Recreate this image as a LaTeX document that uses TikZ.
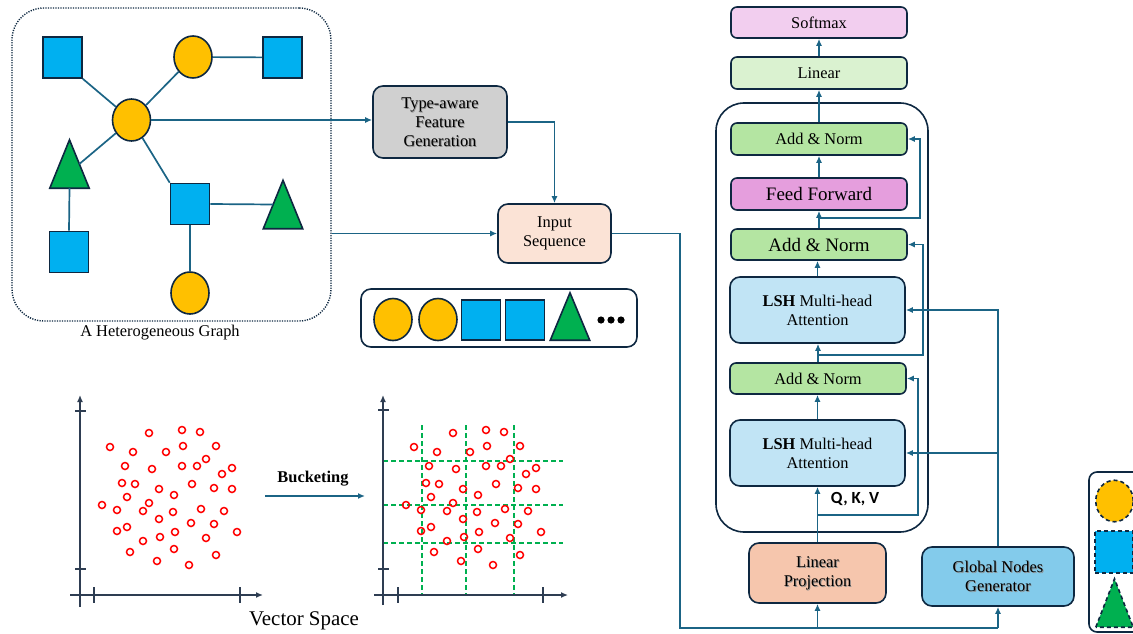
\documentclass[tikz,border=0pt]{standalone}
\usepackage{fontspec}
\setmainfont{Liberation Serif}
\newfontfamily\calib{Carlito}
\usetikzlibrary{arrows.meta,calc,shapes.geometric}

\definecolor{linec}{HTML}{1B6485}
\definecolor{edgec}{HTML}{0E2841}
\definecolor{sqblue}{HTML}{00B0F0}
\definecolor{cyell}{HTML}{FFC000}
\definecolor{tgreen}{HTML}{00B050}
\definecolor{smaxc}{HTML}{F2CEEF}
\definecolor{linc}{HTML}{DAF2D0}
\definecolor{normc}{HTML}{B4E5A2}
\definecolor{ffc}{HTML}{E59EDD}
\definecolor{attc}{HTML}{C1E4F5}
\definecolor{projc}{HTML}{F6C6AD}
\definecolor{globc}{HTML}{83CBEB}
\definecolor{typec}{HTML}{D0D0D0}
\definecolor{inpc}{HTML}{FBE3D6}
\definecolor{axisc}{HTML}{2E3D52}
\definecolor{gridc}{HTML}{00B050}

\newcommand\txt{\fontsize{16.4}{19}\selectfont}
\newcommand\txtbig{\fontsize{19}{22}\selectfont}

% sample points of the vector space (shared by both plots)
\newcommand\ptlist{149/433,182/430,200/432,110/447,133/452,166/452,183/446,216/446,
125/466,152/469,182/466,197/466,206/459,222/474,232/468,122/483,135/484,159/489,
192/484,214/488,232/489,127/497,174/495,149/503,102/505,117/510,143/511,173/512,
201/509,224/511,159/519,191/523,214/524,117/531,127/527,175/532,160/537,237/532,
143/541,206/538,130/552,174/549,216/555,157/561,189/565}

\tikzset{
  conn/.style={draw=linec, line width=1.7pt},
  arr/.style={conn, -{Latex[length=7pt,width=6pt]}},
  blk/.style={draw=edgec, line width=1.6pt, rounded corners=6pt, inner sep=0pt,
    align=center, font=\txt, minimum width=176pt, minimum height=31pt},
  rblk/.style={blk, rounded corners=10pt},
  % soft grey copy of the label just behind the text
  shadowtxt/.style={path picture={\node[text=black!45, font=\txt, align=center,
    inner sep=0pt] at ([xshift=0.9pt,yshift=-0.9pt]path picture bounding box.center) {#1};}},
  sq/.style={draw=edgec, fill=sqblue, line width=1.6pt, minimum width=39pt,
    minimum height=41pt, inner sep=0pt},
  circ/.style={ellipse, draw=edgec, fill=cyell, line width=1.6pt,
    minimum width=38pt, minimum height=42pt, inner sep=0pt},
  tribox/.style={inner sep=0pt, minimum width=39pt, minimum height=48pt},
  trishape/.style={draw=edgec, fill=tgreen, line width=1.6pt, line join=miter},
  dsh/.style={dash pattern=on 4pt off 3pt},
  pt/.style={draw=red, line width=1.5pt},
  axis/.style={draw=axisc, line width=1.3pt},
  axarr/.style={axis, -{Latex[length=7pt,width=6pt]}},
  grid/.style={draw=gridc, line width=1.4pt, dash pattern=on 5pt off 3pt},
}

\begin{document}
\begin{tikzpicture}[x=1pt,y=-1pt]
\useasboundingbox (0,0) rectangle (1133,634);
\clip (0,0) rectangle (1133,634);

% ---------- heterogeneous graph ----------
\node[draw=edgec, line width=1.4pt, dash pattern=on 1.2pt off 1.3pt,
  rounded corners=32pt, minimum width=319pt, minimum height=313pt] (gbox) at (171.5,164.5) {};
\node[font=\txt] (glabel) at (160,333) {A Heterogeneous Graph};

\node[sq] (sqTL) at (62.5,57.5) {};
\node[circ] (cTop) at (193,57) {};
\node[sq] (sqTR) at (282.5,57.5) {};
\node[circ] (c0) at (131.5,120) {};
\node[tribox] (tL) at (69.5,164) {};
\node[sq] (sqBL) at (69,252) {};
\node[sq] (sqM) at (190,204) {};
\node[tribox] (tR) at (283,204.5) {};
\node[circ] (cBot) at (190,293) {};
\draw[trishape] (tL.south west) -- (tL.north) -- (tL.south east) -- cycle;
\draw[trishape] (tR.south west) -- (tR.north) -- (tR.south east) -- cycle;

\draw[conn] (sqTL.south east) -- (c0);
\draw[conn] (c0) -- (cTop);
\draw[conn] (cTop) -- (sqTR);
\draw[conn] (c0) -- ($(tL.north)!0.5!(tL.south east)$);
\draw[conn] (tL.south) -- (sqBL.north);
\draw[conn] (c0) -- (sqM.north west);
\draw[conn] (sqM.east) -- ($(tR.south west)!0.5!(tR.north)$);
\draw[conn] (sqM) -- (cBot);

% ---------- feature generation and input sequence ----------
\node[rblk, fill=typec, minimum width=134pt, minimum height=72pt,
  shadowtxt={Type-aware\\Feature\\Generation}] (ta) at (440,122)
  {Type-aware\\Feature\\Generation};
\node[rblk, fill=inpc, minimum width=113pt, minimum height=59pt] (inp) at (554.5,233.5)
  {Input\\Sequence};

\draw[arr] (c0.east) -- (c0.east -| ta.west);
\draw[arr] (ta.east) -| (inp.north);
\draw[arr] (gbox.east |- inp.west) -- (inp.west);

% token sequence
\node[draw=edgec, line width=1.6pt, rounded corners=10pt, minimum width=276pt,
  minimum height=58pt] (seq) at (499,318) {};
\node[circ] (s1) at (393,319.5) {};
\node[circ] (s2) at (438,319.5) {};
\node[sq, minimum height=40pt] (s3) at (481,320) {};
\node[sq, minimum height=40pt] (s4) at (525,320) {};
\node[tribox, minimum height=47pt] (s5) at (570,316.5) {};
\draw[trishape] (s5.south west) -- (s5.north) -- (s5.south east) -- cycle;
\foreach \dx in {601,611,621} \fill[black] (\dx,320) circle[radius=3.6pt];

% ---------- encoder stack ----------
\node[draw=edgec, line width=1.6pt, rounded corners=28pt, minimum width=212pt,
  minimum height=429pt] (enc) at (822,317.5) {};

\node[blk, fill=smaxc] (smax) at (819,22.5) {Softmax};
\node[blk, fill=linc, minimum height=32pt] (lin) at (819,73) {Linear};
\node[blk, fill=normc, minimum height=32pt] (an1) at (819,139) {Add \& Norm};
\node[blk, fill=ffc, minimum height=32pt, font=\txtbig] (ff) at (819,194) {Feed Forward};
\node[blk, fill=normc, font=\txtbig] (an2) at (819,244.5) {Add \& Norm};
\node[rblk, fill=attc, minimum width=175pt, minimum height=66pt] (mha1) at (817.5,310)
  {\textbf{LSH} Multi-head\\Attention};
\node[blk, fill=normc] (an3) at (818,378.5) {Add \& Norm};
\node[rblk, fill=attc, minimum width=175pt, minimum height=66pt] (mha2) at (817.5,453)
  {\textbf{LSH} Multi-head\\Attention};
\node[font=\calib\bfseries\fontsize{17}{20}\selectfont] (qkv) at (855,499) {Q, K, V};

\node[rblk, fill=projc, minimum width=137pt, minimum height=60pt,
  shadowtxt={Linear\\Projection}] (lp) at (817.5,573)
  {Linear\\Projection};
\node[rblk, fill=globc, minimum width=152pt, minimum height=59pt,
  shadowtxt={Global Nodes\\Generator}] (glob) at (998,576.5)
  {Global Nodes\\Generator};

% main data path
\draw[arr] (lp.north) -- (lp.north |- mha2.south);
\draw[arr] (mha2.north) -- (mha2.north |- an3.south);
\draw[arr] (an3.north) -- (an3.north |- mha1.south);
\draw[arr] (mha1.north) -- (mha1.north |- an2.south);
\draw[arr] (an2.north) -- (an2.north |- ff.south);
\draw[arr] (ff.north) -- (ff.north |- an1.south);
\draw[arr] (an1.north) -- (an1.north |- lin.south);
\draw[arr] (lin.north) -- (lin.north |- smax.south);

% residual connections
\coordinate (r1) at (818,515);
\coordinate (r2) at (818,355);
\coordinate (r3) at (818,218);
\draw[arr] (r1) -| ([xshift=11pt]an3.east) -- (an3.east);
\draw[arr] (r2) -| ([xshift=15pt]an2.east) -- (an2.east);
\draw[arr] (r3) -| ([xshift=12pt]an1.east) -- (an1.east);

% global nodes into attention
\draw[arr] (glob.north) |- (mha1.east);
\draw[arr] (glob.north |- mha2.east) -- (mha2.east);

% input sequence feed
\coordinate (bl) at (680,628);
\draw[conn] (inp.east) -| (bl) -- (bl -| glob.south);
\draw[arr] (bl -| lp.south) -- (lp.south);
\draw[arr] (bl -| glob.south) -- (glob.south);

% ---------- legend ----------
\node[draw=edgec, line width=1.6pt, rounded corners=8pt, minimum width=60pt,
  minimum height=160pt] (leg) at (1119,552) {};
\node[circ, dsh, minimum width=37.5pt, minimum height=41.5pt] (lc) at (1114.5,501) {};
\node[sq, dsh, minimum width=38pt, minimum height=42pt] (ls) at (1114,552) {};
\node[tribox, minimum width=37pt] (lt) at (1114.5,603) {};
\draw[trishape, dsh] (lt.south west) -- (lt.north) -- (lt.south east) -- cycle;

% ---------- vector space and bucketing ----------
\draw[axarr] (70,595) -- (263,595);
\draw[axarr] (80,607) -- (80,395);
\draw[axis] (75,411) -- (86,411);
\draw[axis] (75,569) -- (86,569);
\draw[axis] (94,587) -- (94,603);
\draw[axis] (240,587) -- (240,603);
\foreach \px/\py in \ptlist \draw[pt] (\px,\py) circle[radius=3.5pt];

\node[font=\txt\bfseries] (bk) at (313,479) {Bucketing};
\draw[arr] (265,496) -- (365,496);
\node[font=\fontsize{20.9}{24}\selectfont] (vs) at (304,621) {Vector Space};

\begin{scope}[xshift=304pt]
\foreach \gx in {118,162,210} \draw[grid] (\gx,425) -- (\gx,595);
\foreach \gy in {461,505,543} \draw[grid] (79,\gy) -- (259,\gy);
\draw[axarr] (70,595) -- (264,595);
\draw[axarr] (79,605) -- (79,395);
\draw[axis] (74,410) -- (85,410);
\draw[axis] (74,569) -- (85,569);
\draw[axis] (94,587) -- (94,603);
\draw[axis] (239,587) -- (239,603);
\foreach \px/\py in \ptlist \draw[pt] (\px,\py) circle[radius=3.5pt];
\end{scope}
\end{tikzpicture}
\end{document}
